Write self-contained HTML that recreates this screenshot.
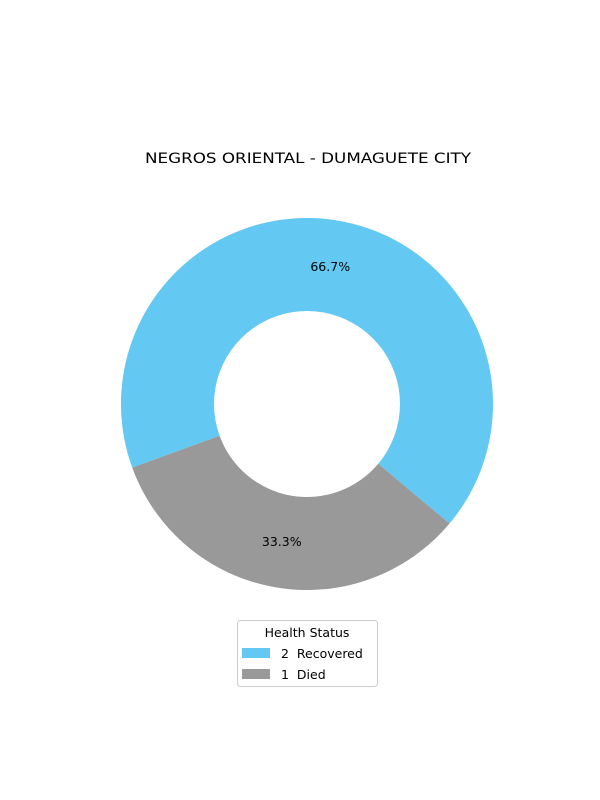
<!DOCTYPE html>
<html><head><meta charset="utf-8"><style>
body{margin:0;background:#fff;}
svg{display:block;font-family:"DejaVu Sans","Liberation Sans",sans-serif;}
</style></head><body>
<svg id="chart" width="600" height="800">
<rect width="600" height="800" fill="#fff"/>
<text x="145" y="163" textLength="326" lengthAdjust="spacingAndGlyphs" font-size="14.4" fill="#000">NEGROS ORIENTAL - DUMAGUETE CITY</text>
<g id="slices"></g>
<g>
<rect x="237.5" y="620.5" width="140" height="66" rx="3" fill="#fff" stroke="#ccc"/>
<text x="307" y="637" text-anchor="middle" font-size="12.5">Health Status</text>
<g>
<rect x="242" y="648" width="28" height="10" fill="#63c8f2"/>
<text x="281" y="658" font-size="12.5" style="white-space:pre">2  Recovered</text></g>
<g>
<rect x="242" y="669" width="28" height="10" fill="#999999"/>
<text x="281" y="679" font-size="12.5" style="white-space:pre">1  Died</text></g>
</g>
</svg>
<script>
const categories=["Recovered","Died"];
const values=[2,1];
const colors=["#63c8f2","#999999"];
const cx=307,cy=404,R=186,r=93,start=-40;
const g=document.getElementById('slices');
const ns="http://www.w3.org/2000/svg";
const total=values.reduce((a,b)=>a+b,0);
let a0=start;
function pt(rad,deg){const t=deg*Math.PI/180;return [cx+rad*Math.cos(t),cy-rad*Math.sin(t)];}
values.forEach((v,i)=>{
  const sweep=v/total*360,a1=a0+sweep,large=sweep>180?1:0;
  const [x0,y0]=pt(R,a0),[x1,y1]=pt(R,a1),[x2,y2]=pt(r,a1),[x3,y3]=pt(r,a0);
  const p=document.createElementNS(ns,'path');
  p.setAttribute('d',`M${x0},${y0}A${R},${R} 0 ${large} 0 ${x1},${y1}L${x2},${y2}A${r},${r} 0 ${large} 1 ${x3},${y3}Z`);
  p.setAttribute('fill',colors[i]);
  
  
  g.appendChild(p);
  const [lx,ly]=pt(R*0.75,a0+sweep/2);
  const t=document.createElementNS(ns,'text');
  t.setAttribute('x',lx-1);t.setAttribute('y',ly+4.5);
  t.setAttribute('text-anchor','middle');t.setAttribute('font-size','12.5');
  t.textContent=(v/total*100).toFixed(1)+'%';
  
  
  g.appendChild(t);
  a0=a1;
});
</script>
</body></html>
